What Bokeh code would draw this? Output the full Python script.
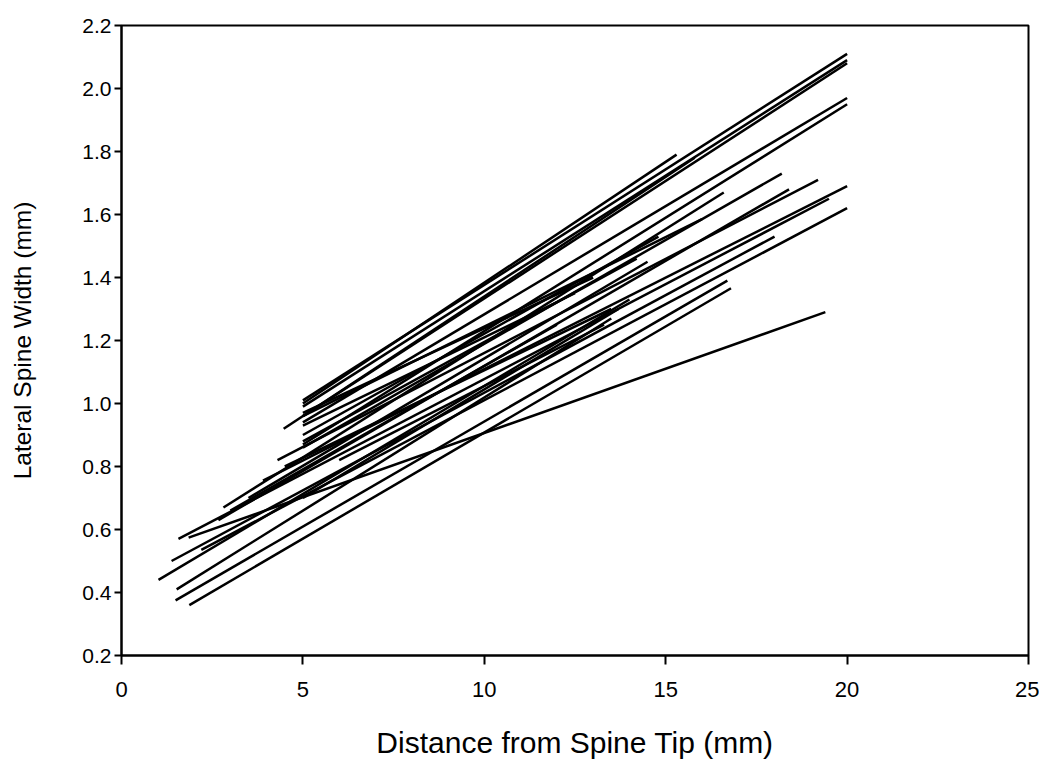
from bokeh.plotting import figure
from bokeh.models import ColumnDataSource, FixedTicker, NumeralTickFormatter, Range1d
from bokeh.embed import file_html
from bokeh.resources import INLINE

# Each spine: start (distance, width) -> end (distance, width)
start_x = [5.0, 5.0, 5.0, 5.0, 5.0, 5.0, 4.47, 2.81, 5.0, 4.3, 3.9, 2.67, 1.57, 2.2, 5.0,
           1.38, 5.0, 1.49, 1.87, 1.85, 1.02, 1.52, 5.0, 5.0, 4.5, 3.0, 5.0, 6.0, 3.5, 5.0]
start_y = [1.01, 0.99, 0.96, 0.94, 0.87, 1.00, 0.92, 0.67, 0.86, 0.82, 0.755, 0.63, 0.57, 0.535, 0.96,
           0.50, 0.90, 0.375, 0.36, 0.574, 0.44, 0.41, 0.97, 0.93, 0.80, 0.66, 0.88, 0.82, 0.70, 0.70]
end_x = [20.0, 20.0, 20.0, 20.0, 20.0, 15.3, 15.8, 16.6, 18.2, 19.2, 20.0, 18.4, 19.5, 20.0, 16.0,
         18.0, 14.8, 16.7, 16.8, 19.4, 14.0, 13.5, 13.0, 12.5, 13.5, 12.0, 14.2, 13.3, 14.5, 13.7]
end_y = [2.11, 2.09, 2.08, 1.97, 1.95, 1.79, 1.78, 1.67, 1.73, 1.71, 1.69, 1.68, 1.65, 1.62, 1.585,
         1.53, 1.53, 1.39, 1.366, 1.29, 1.33, 1.27, 1.40, 1.35, 1.30, 1.25, 1.46, 1.25, 1.45, 1.30]

x_ticks = [0, 5, 10, 15, 20, 25]
y_ticks = [0.2, 0.4, 0.6, 0.8, 1.0, 1.2, 1.4, 1.6, 1.8, 2.0, 2.2]

src = ColumnDataSource(dict(x0=start_x, y0=start_y, x1=end_x, y1=end_y))

p = figure(width=1039, height=761, output_backend="svg", toolbar_location=None,
           x_range=Range1d(0, 25), y_range=Range1d(0.2, 2.2),
           min_border_left=121, min_border_right=11, min_border_top=25, min_border_bottom=105)

p.segment(x0="x0", y0="y0", x1="x1", y1="y1", source=src, line_color="black", line_width=2.5)

p.grid.visible = False
p.outline_line_color = "black"
p.outline_line_width = 2
p.background_fill_color = "white"
p.border_fill_color = "white"

p.xaxis.ticker = FixedTicker(ticks=x_ticks)
p.yaxis.ticker = FixedTicker(ticks=y_ticks)
p.yaxis.formatter = NumeralTickFormatter(format="0.0")

p.xaxis.axis_label = "Distance from Spine Tip (mm)"
p.yaxis.axis_label = "Lateral Spine Width (mm)"

for ax in (p.xaxis[0], p.yaxis[0]):
    ax.axis_line_color = "black"
    ax.axis_line_width = 2
    ax.major_tick_line_color = "black"
    ax.major_tick_line_width = 2
    ax.minor_tick_line_color = None
    ax.major_tick_in = 0
    ax.major_label_text_font = "Liberation Sans"
    ax.axis_label_text_font = "Liberation Sans"
    ax.axis_label_text_font_style = "normal"
    ax.major_label_text_color = "black"
    ax.axis_label_text_color = "black"

p.xaxis.major_tick_out = 9
p.xaxis.major_label_standoff = 17
p.xaxis.major_label_text_font_size = "22px"
p.xaxis.axis_label_text_font_size = "30px"
p.xaxis.axis_label_standoff = 26

p.yaxis.major_tick_out = 7
p.yaxis.major_label_standoff = 3
p.yaxis.major_label_text_font_size = "21px"
p.yaxis.axis_label_text_font_size = "24.5px"
p.yaxis.axis_label_standoff = 43

open("out.html", "w").write(file_html(p, INLINE))
